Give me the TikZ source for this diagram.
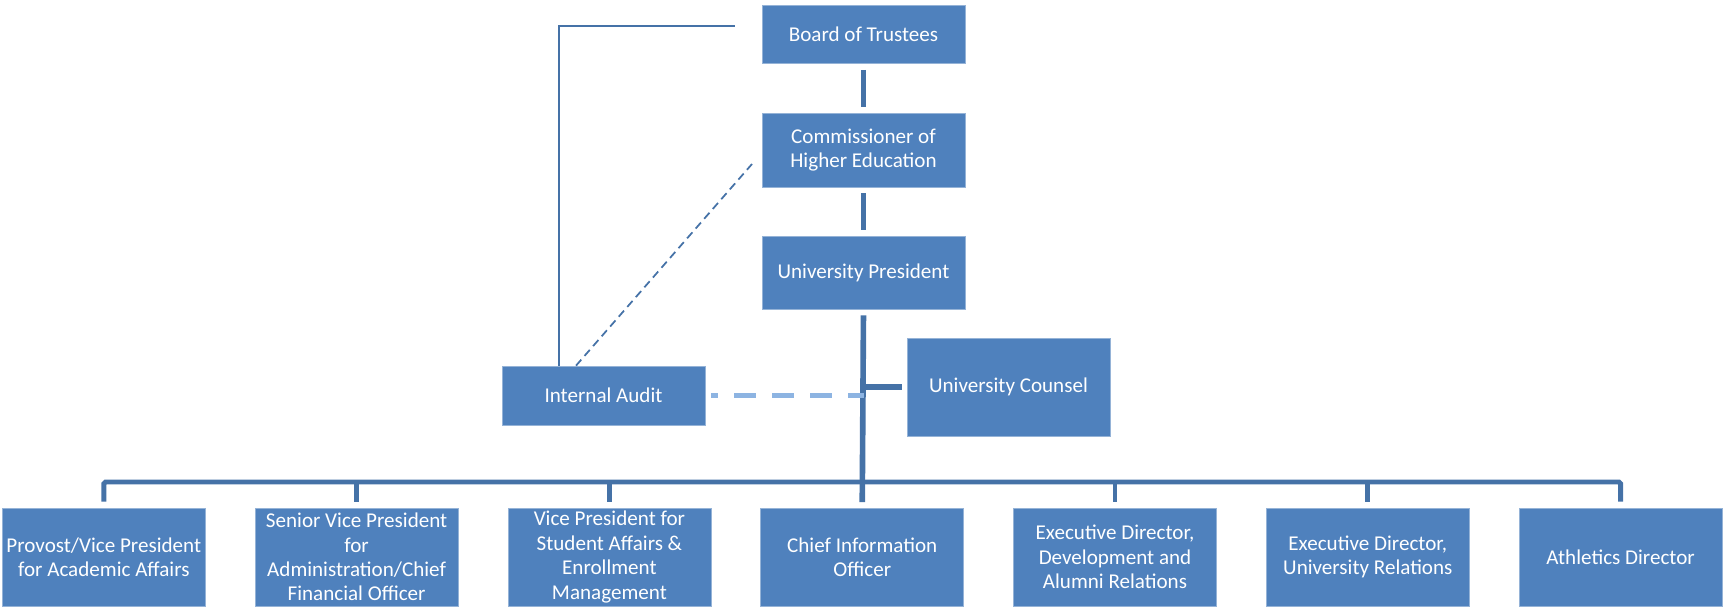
\documentclass[tikz,border=0pt]{standalone}
\usepackage{fontspec}
\setmainfont{Carlito}
\usepackage{tikz}

\definecolor{boxblue}{RGB}{79,129,189}
\definecolor{linkblue}{RGB}{69,114,167}
\definecolor{paleblue}{RGB}{141,180,226}

\tikzset{
  unit/.style = {fill=boxblue, draw=boxblue!60!white, line width=0.4pt, text=white,
    align=center, inner xsep=1pt, inner ysep=0.5pt, minimum width=4.06cm,
    font=\fontsize{12}{13.9}\selectfont},
  link/.style = {draw=linkblue, line width=3.2pt},
  gap/.style = {shorten <=0.12cm, shorten >=0.11cm}
}

\begin{document}
\begin{tikzpicture}[x=0.02cm, y=-0.02cm]
\useasboundingbox (0,0) rectangle (1723,609);

\node[unit, minimum height=1.16cm] (board) at (863.5,34.5) {Board of Trustees};
\node[unit, minimum height=1.48cm] (comm) at (863.5,150) {Commissioner of\\Higher Education};
\node[unit, minimum height=1.46cm] (pres) at (863.5,272.5) {University President};
\node[unit, minimum height=1.96cm] (counsel) at (1008.5,387) {University Counsel};
\node[unit, minimum height=1.18cm] (audit) at (603.5,395.5) {Internal Audit};

\foreach \i/\txt in {1/{Provost/Vice President\\for Academic Affairs},
    2/{Senior Vice President\\for\\Administration/Chief\\Financial Officer},
    3/{Vice President for\\Student Affairs \&\\Enrollment\\Management},
    4/{Chief Information\\Officer},
    5/{Executive Director,\\Development and\\Alumni Relations},
    6/{Executive Director,\\University Relations},
    7/{Athletics Director}}
  \node[unit, minimum height=1.96cm] (b\i) at ({103.8+252.8*(\i-1)},557) {\txt};

% main line
\draw[link, gap] (board.south) -- (comm.north);
\draw[link, gap] (comm.south) -- (pres.north);
\draw[link, gap] (pres.south) -- (b4.north);
\draw[link, shorten <=0.1cm] (counsel.west) -- (counsel.west -| pres.south);

% bus to the vice presidents
\coordinate (bus) at (863.5,482);
\draw[link, line width=2.8pt, shorten <=0.12cm, shorten >=0.12cm, rounded corners=1pt]
  (b1.north) -- (bus -| b1.north) -- (bus -| b7.north) -- (b7.north);
\foreach \i in {2,3,5,6}
  \draw[link, line width=2.8pt, shorten >=0.12cm] (bus -| b\i.north) -- (b\i.north);

% audit lines
\coordinate (auditfoot) at ([xshift=-0.89cm]audit.north);
\coordinate (trustee) at (735,26);
\draw[linkblue, line width=1.2pt] (auditfoot) |- (trustee);
\coordinate (auditdash) at ([xshift=-0.55cm]audit.north);
\coordinate (commdash) at (752,164);
\draw[linkblue, line width=1pt, dash pattern=on 0.16cm off 0.1cm] (auditdash) -- (commdash);
\draw[paleblue, line width=3.1pt, dash pattern=on 0.44cm off 0.32cm, dash phase=0.3cm,
  shorten <=0.12cm] (audit.east) -- (audit.east -| pres.south);
\end{tikzpicture}
\end{document}
